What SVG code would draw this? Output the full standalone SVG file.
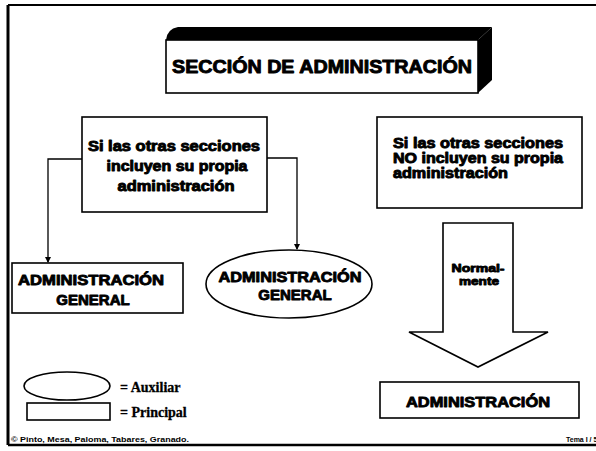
<svg xmlns="http://www.w3.org/2000/svg" width="596" height="451" viewBox="0 0 596 451">
<style>
.box{fill:#fff;stroke:#000;stroke-width:1.6}
.t{font-family:"Liberation Sans",Arial,sans-serif;font-weight:bold;fill:#000;stroke:#000;stroke-width:0.9;stroke-linejoin:round}
.c{text-anchor:middle}
.s{font-family:"Liberation Serif","Times New Roman",serif;font-weight:bold;fill:#000;font-size:14px;stroke:#000;stroke-width:0.3}
.conn{fill:none;stroke:#000;stroke-width:1.3}
</style>
<defs>
<marker id="ah" markerWidth="6" markerHeight="6" refX="5" refY="3" orient="auto" markerUnits="userSpaceOnUse">
<path d="M0,0 L6,3 L0,6 Z" fill="#000"/>
</marker>
</defs>
<rect width="596" height="451" fill="#fff"/>
<g id="frame">
<path d="M8,5 V445" stroke="#000" stroke-width="3" fill="none"/>
<path d="M8,5 H596" stroke="#000" stroke-width="2" fill="none"/>
<path d="M8,445 H596" stroke="#000" stroke-width="2.5" fill="none"/>
</g>
<g id="title">
<path d="M166,40 Q167,29 178,27 L492,27 L478,40 Z" fill="#000"/>
<path d="M478,40 L492,27 L492,80 L478,93 Z" fill="#000"/>
<rect class="box" x="166" y="40" width="312" height="53"/>
<text class="t c" x="322" y="73" font-size="18" textLength="300" lengthAdjust="spacingAndGlyphs">SECCIÓN DE ADMINISTRACIÓN</text>
</g>
<g id="cond-si">
<rect class="box" x="82" y="117" width="185" height="95"/>
<text class="t c" font-size="14"><tspan x="174" y="151" textLength="172" lengthAdjust="spacingAndGlyphs">Si las otras secciones</tspan><tspan x="177" y="171" textLength="141" lengthAdjust="spacingAndGlyphs">incluyen su propia</tspan><tspan x="176" y="191" textLength="117" lengthAdjust="spacingAndGlyphs">administración</tspan></text>
</g>
<g id="cond-no">
<rect class="box" x="377" y="117" width="205" height="91"/>
<text class="t" font-size="14"><tspan x="393" y="148" textLength="170" lengthAdjust="spacingAndGlyphs">Si las otras secciones</tspan><tspan x="393" y="163" textLength="170" lengthAdjust="spacingAndGlyphs">NO incluyen su propia</tspan><tspan x="393" y="178" textLength="115" lengthAdjust="spacingAndGlyphs">administración</tspan></text>
</g>
<g id="admin-general-principal">
<rect class="box" x="12" y="263" width="171" height="50"/>
<text class="t c" font-size="15"><tspan x="91" y="285" textLength="146" lengthAdjust="spacingAndGlyphs">ADMINISTRACIÓN</tspan><tspan x="93" y="305">GENERAL</tspan></text>
</g>
<g id="admin-general-auxiliar">
<ellipse class="box" cx="289" cy="284" rx="83" ry="34"/>
<text class="t c" font-size="15"><tspan x="290" y="282" textLength="143" lengthAdjust="spacingAndGlyphs">ADMINISTRACIÓN</tspan><tspan x="295" y="300">GENERAL</tspan></text>
</g>
<g id="arrow-normalmente">
<path class="box" d="M443,223 H513 V332 H548 L478,367 L409,332 H443 Z" stroke-linejoin="miter"/>
<text class="t c" font-size="11"><tspan x="478" y="272" textLength="53" lengthAdjust="spacingAndGlyphs">Normal-</tspan><tspan x="479" y="285" textLength="40" lengthAdjust="spacingAndGlyphs">mente</tspan></text>
</g>
<g id="administracion">
<rect class="box" x="380" y="382" width="199" height="36"/>
<text class="t c" x="478" y="407" font-size="15" textLength="144" lengthAdjust="spacingAndGlyphs">ADMINISTRACIÓN</text>
</g>
<g id="legend">
<ellipse class="box" cx="67" cy="386" rx="43" ry="14"/>
<text class="s" x="120" y="392">= Auxiliar</text>
<rect class="box" x="27" y="403" width="83" height="17"/>
<text class="s" x="120" y="417">= Principal</text>
</g>
<g id="connectors">
<path class="conn" d="M82,159 H48 V262" marker-end="url(#ah)"/>
<path class="conn" d="M267,158 H297 V249" marker-end="url(#ah)"/>
</g>
<g id="footer">
<text x="11" y="442" font-family="Liberation Sans,Arial,sans-serif" font-weight="bold" font-size="8" textLength="178" lengthAdjust="spacingAndGlyphs">© Pinto, Mesa, Paloma, Tabares, Granado.</text>
<text x="566" y="442" font-family="Liberation Sans,Arial,sans-serif" font-weight="bold" font-size="7">Tema I / 5</text>
</g>
</svg>
